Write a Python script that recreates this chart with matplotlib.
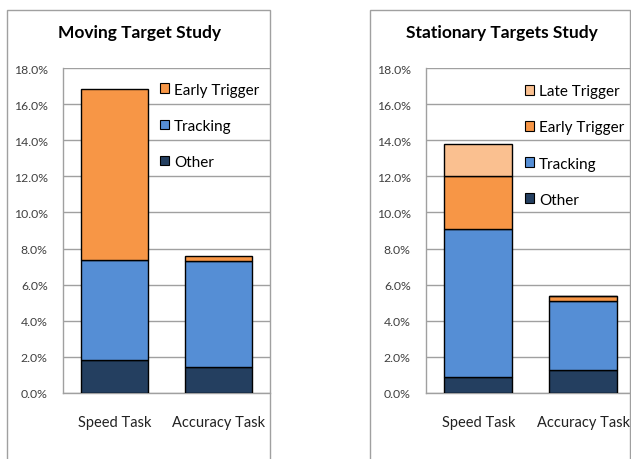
import matplotlib
matplotlib.use("Agg")
import matplotlib.pyplot as plt
from matplotlib.patches import Patch, Rectangle
import numpy as np

plt.rcParams['font.family'] = ['Lato', 'DejaVu Sans']

categories = ["Speed Task", "Accuracy Task"]

# Moving Target Study (percent)
mov_other = [1.83, 1.42]
mov_tracking = [5.53, 5.87]
mov_early = [9.46, 0.31]

# Stationary Targets Study (percent)
sta_other = [0.88, 1.29]
sta_tracking = [8.19, 3.78]
sta_early = [2.93, 0.31]
sta_late = [1.80, 0.0]

yticks = [0, 2, 4, 6, 8, 10, 12, 14, 16, 18]

colors = {
    "Other": "#243f60",
    "Tracking": "#558ed5",
    "Early Trigger": "#f79646",
    "Late Trigger": "#fac090",
}

W, H = 631, 460
fig = plt.figure(figsize=(W / 100, H / 100), dpi=100)

# panel borders
for (x0, x1) in [(7, 270), (370, 630)]:
    fig.patches.append(Rectangle((x0 / W, -0.05), (x1 - x0) / W, (H - 11) / H + 0.05,
                                 transform=fig.transFigure, fill=False,
                                 edgecolor="#a0a0a0", linewidth=1.0))


def panel(rect, title, title_x, series, legend_x, legend_y):
    ax = fig.add_axes(rect)
    x = np.arange(len(categories))
    bottom = np.zeros(len(categories))
    for name, vals in series:
        ax.bar(x, vals, 0.65, bottom=bottom, color=colors[name],
               edgecolor="black", linewidth=1.0, zorder=3)
        bottom = bottom + np.array(vals)
    ax.set_xlim(-0.5, 1.5)
    ax.set_ylim(0, 18)
    ax.set_yticks(yticks)
    ax.set_yticklabels([f"{v:.1f}%" for v in yticks], fontsize=8.8, color="#404040")
    ax.set_xticks(x)
    ax.set_xticklabels(categories, fontsize=10.5, color="#222222")
    ax.tick_params(axis='y', length=0, pad=11)
    ax.tick_params(axis='x', length=0, pad=16)
    ax.yaxis.grid(True, color="#a0a0a0", linewidth=1.0, zorder=0)
    ax.set_axisbelow(True)
    for s in ["top", "right"]:
        ax.spines[s].set_visible(False)
    for s in ["left", "bottom"]:
        ax.spines[s].set_color("#a0a0a0")
        ax.spines[s].set_linewidth(1.0)
    handles = [Patch(facecolor=colors[n], edgecolor="black", linewidth=0.8, label=n)
               for n, _ in reversed(series)]
    ax.legend(handles=handles, loc="upper left", bbox_to_anchor=(legend_x, legend_y),
              frameon=False, fontsize=11, handlelength=0.6, handleheight=0.6,
              handletextpad=0.3, labelspacing=1.45, borderpad=0, borderaxespad=0)
    fig.text(title_x / W, 1 - 33 / H, title, ha="center", va="center",
             fontsize=12.5, fontweight="bold", color="black")
    return ax


panel([63 / W, 66 / H, 207 / W, 325 / H], "Moving Target Study", 139,
      [("Other", mov_other), ("Tracking", mov_tracking), ("Early Trigger", mov_early)],
      0.47, 0.955)
panel([426 / W, 66 / H, 209.5 / W, 325 / H], "Stationary Targets Study", 502,
      [("Other", sta_other), ("Tracking", sta_tracking), ("Early Trigger", sta_early),
       ("Late Trigger", sta_late)],
      0.473, 0.95)

fig.savefig("out.png", dpi=100)
